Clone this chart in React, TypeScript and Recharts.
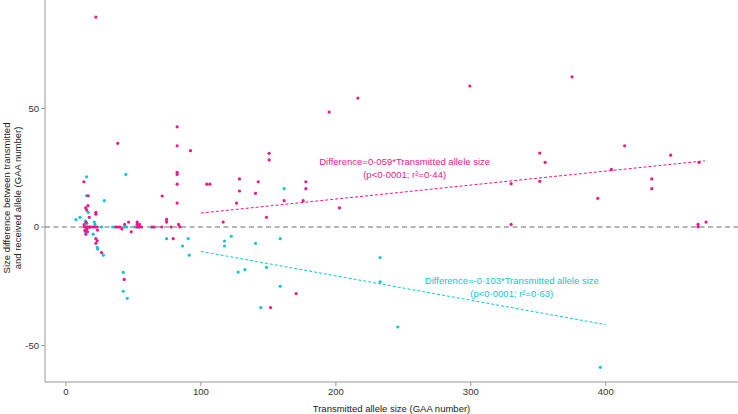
import { ScatterChart, Scatter, XAxis, YAxis, ReferenceLine, ReferenceDot } from 'recharts';

// [transmitted allele size, size difference]
const expansions = [
  [22.2, 88.6], [38.4, 35.3], [82.4, 42.3], [82.4, 34.3], [92.3, 32.2], [82.4, 23.1], [82.4, 22.2],
  [82.4, 18.1], [82.4, 10.1], [71.3, 13.1], [104.4, 18.1], [106.7, 18.1], [128.6, 20.3], [128.6, 15.2],
  [126.4, 10.1], [116.5, 2.1], [142.5, 19.1], [140.5, 14.2], [148.6, 4.1], [150.6, 31.1], [150.6, 28.3],
  [161.7, 11.1], [175.8, 11.1], [177.8, 19.1], [177.8, 16.2], [202.7, 8.1], [195, 48.5], [216.3, 54.4],
  [299.3, 59.5], [375, 63.4], [414, 34.3], [448.1, 30.3], [351.1, 31.2], [355.1, 27.3], [329.9, 18.3],
  [351.1, 19.3], [404.2, 24.3], [434.1, 20.3], [434.1, 16.2], [394.1, 12.1], [469.1, 27.3], [329.9, 1.1],
  [468.4, 1.1], [468.4, 0.1], [474.3, 2.1], [170.6, -28.1], [151.6, -34], [79.5, -4.9], [74.6, 3.2],
  [74.6, 2.1], [83.5, 1.1], [84.4, 0.1], [46.4, 2.1], [43.5, 1.1], [52.8, 2.1], [52.8, 1.1], [52.8, 0],
  [54.5, 1.1], [54.5, 0], [41.5, -0.8], [48.4, -2], [43.2, -22.1], [26.4, -10.8], [23.4, -1.3],
  [22.2, -4.9], [23.2, -5.8], [22.2, -6.9], [22.2, 6.2], [22.2, 5.4], [17.3, 4.1], [16.3, 9], [14.6, 8.1],
  [15.3, 7.2], [16.5, 13.2], [13.3, 19.1], [14.8, -3], [13.8, 0], [14.8, 0], [15.8, 0], [16.8, 0],
  [17.8, 0], [20, 0], [21.5, 0], [23, 0], [37, 0], [38.5, 0], [40, 0], [56, 0], [64, 0], [65.5, 0],
  [71, 0], [78, 0], [15.5, -1], [16, -2], [14, -1.5], [13.5, 1], [15, 2],
];

const contractions = [
  [15.3, 21.2], [15.3, 13.2], [44.4, 22.2], [28.4, 11.1], [16.5, 6.2], [7.4, 3.1], [10.4, 4.1],
  [14.5, 2.5], [15.5, 1.5], [21, 2.1], [21.5, 1.1], [20.2, -3], [23.2, -8.6], [23.5, -9.3], [27.7, -11.9],
  [42.5, -19.1], [42.5, -27.1], [45.4, -30.1], [34.6, 0], [36.6, 0], [43.5, 0], [45, 0], [51, 0], [53, 0],
  [54, 0], [63.5, 0], [26.4, 0], [16, 0], [18, 0], [19, 0], [14.5, -2], [15.3, -1], [74.6, -4.9],
  [90.6, -4.9], [86.4, -8], [91.4, -11.9], [122.5, -3.9], [117.5, -5.9], [117.5, -8], [140.5, -6.9],
  [158.8, -4.9], [127.6, -19], [132.6, -18], [148.6, -17], [158.8, -25], [144.4, -34], [161.7, 16.2],
  [232.8, -12.9], [232.8, -23.1], [245.9, -42.2], [396, -59.2],
];

const xTicks = [0, 100, 200, 300, 400];
const yTicks = [-50, 0, 50];

// fitted slopes and x-extent of each regression line
const expSlope = 0.059;
const expRange = [100, 473.5];
const conSlope = -0.103;
const conRange = [100, 400];

const PINK = '#ee168b';
const CYAN = '#0bc8d5';
const FONT = '"Liberation Sans", Arial, sans-serif';
const FS = 9.5;

const toPoints = (rows: number[][]) => rows.map(([x, y]) => ({ x, y }));

const dot = (color: string) => (props: any) =>
  <circle cx={props.cx} cy={props.cy} r={1.6} fill={color} />;

const note = (lines: string[], color: string) => (props: any) => {
  const { x, y } = props.viewBox;
  return (
    <text x={x} y={y} textAnchor="middle" fill={color} fontSize={FS} fontFamily={FONT}>
      {lines.map((l, i) => (
        <tspan key={i} x={x} dy={i === 0 ? 0 : 13}>{l}</tspan>
      ))}
    </text>
  );
};

export default function App() {
  return (
    <div style={{ position: 'absolute', left: 0, top: 0, width: 738, height: 414, background: '#fff' }}>
      <ScatterChart width={738} height={414} margin={{ top: 0, right: 0, bottom: 0, left: 0 }}>
        <XAxis
          type="number"
          dataKey="x"
          domain={[-15.5, 498]}
          ticks={xTicks}
          height={32}
          stroke="#999"
          tickSize={4}
          tick={{ fill: '#333', fontSize: FS, fontFamily: FONT }}
          label={{ value: 'Transmitted allele size (GAA number)', position: 'insideBottom', offset: 2, fill: '#222', fontSize: FS, fontFamily: FONT }}
        />
        <YAxis
          type="number"
          dataKey="y"
          domain={[-65.4, 95.8]}
          ticks={yTicks}
          width={45}
          stroke="#999"
          tickSize={4}
          tick={{ fill: '#333', fontSize: FS, fontFamily: FONT }}
          label={{
            content: () => (
              <text transform="translate(12,198) rotate(-90)" textAnchor="middle" fill="#222" fontSize={FS} fontFamily={FONT}>
                <tspan x={0} dy={-2}>Size difference between transmitted</tspan>
                <tspan x={0} dy={11}>and received allele (GAA number)</tspan>
              </text>
            ),
          }}
        />
        <ReferenceLine y={0} stroke="#b5b5b5" strokeWidth={2} strokeDasharray="5 3.5" />
        <ReferenceLine
          segment={[{ x: expRange[0], y: expSlope * expRange[0] }, { x: expRange[1], y: expSlope * expRange[1] }]}
          stroke={PINK}
          strokeWidth={1}
          strokeDasharray="3 2"
        />
        <ReferenceLine
          segment={[{ x: conRange[0], y: conSlope * conRange[0] }, { x: conRange[1], y: conSlope * conRange[1] }]}
          stroke={CYAN}
          strokeWidth={1}
          strokeDasharray="3 2"
        />
        <Scatter data={toPoints(contractions)} fill={CYAN} shape={dot(CYAN)} isAnimationActive={false} />
        <Scatter data={toPoints(expansions)} fill={PINK} shape={dot(PINK)} isAnimationActive={false} />
        <ReferenceDot
          x={251}
          y={26.2}
          r={0}
          label={{ content: note(['Difference=0·059*Transmitted allele size', '(p<0·0001; r²=0·44)'], PINK) }}
        />
        <ReferenceDot
          x={330.4}
          y={-24}
          r={0}
          label={{ content: note(['Difference=-0·103*Transmitted allele size', '(p<0·0001; r²=0·63)'], CYAN) }}
        />
      </ScatterChart>
    </div>
  );
}
